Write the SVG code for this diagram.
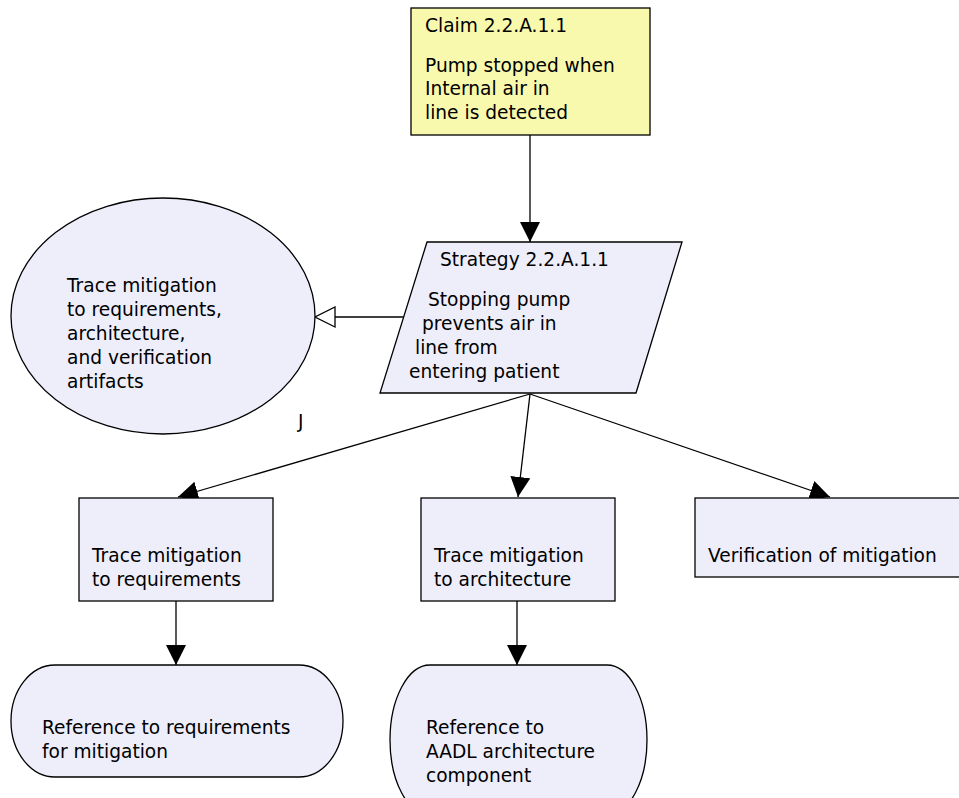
<svg xmlns="http://www.w3.org/2000/svg" width="959" height="798" viewBox="0 0 959 798">
  <style>
    .shape { fill: #eeeefb; stroke: #000; stroke-width: 1.3; }
    .claim { fill: #f9f9ae; stroke: #000; stroke-width: 1.3; }
    text { font-family: "DejaVu Sans", "Liberation Sans", sans-serif; font-size: 18.6px; fill: #000; }
    .edge { stroke: #000; stroke-width: 1.3; fill: none; }
  </style>
  <defs>
    <marker id="solid" viewBox="0 0 20 20" refX="20" refY="10" markerWidth="20" markerHeight="20" markerUnits="userSpaceOnUse" orient="auto">
      <path d="M0,0 L20,10 L0,20 Z" fill="#000"/>
    </marker>
    <marker id="hollow" viewBox="0 0 22 22" refX="21" refY="11" markerWidth="22" markerHeight="22" markerUnits="userSpaceOnUse" orient="auto">
      <path d="M1,1 L21,11 L1,21 Z" fill="#fff" stroke="#000" stroke-width="1.3"/>
    </marker>
  </defs>

  <g id="connectors">
    <line class="edge" x1="530" y1="135" x2="530" y2="242" marker-end="url(#solid)"/>
    <line class="edge" x1="404" y1="317" x2="315" y2="317" marker-end="url(#hollow)"/>
    <line class="edge" x1="530" y1="394" x2="178" y2="497" marker-end="url(#solid)"/>
    <line class="edge" x1="530" y1="394" x2="518" y2="497" marker-end="url(#solid)"/>
    <line class="edge" x1="530" y1="394" x2="830" y2="497" marker-end="url(#solid)"/>
    <line class="edge" x1="176" y1="601" x2="176" y2="665" marker-end="url(#solid)"/>
    <line class="edge" x1="517" y1="601" x2="517" y2="665" marker-end="url(#solid)"/>
  </g>

  <g id="claim">
    <rect class="claim" x="411" y="8" width="239" height="127"/>
    <text x="425" y="32">Claim 2.2.A.1.1</text>
    <text x="425" y="72">Pump stopped when</text>
    <text x="425" y="95">Internal air in</text>
    <text x="425" y="119">line is detected</text>
  </g>

  <g id="strategy">
    <path class="shape" d="M427,242 L682,242 L636,393 L380,393 Z"/>
    <text x="440" y="266">Strategy 2.2.A.1.1</text>
    <text x="428" y="306">Stopping pump</text>
    <text x="422" y="330">prevents air in</text>
    <text x="415" y="354">line from</text>
    <text x="409" y="378">entering patient</text>
  </g>

  <g id="justification">
    <ellipse class="shape" cx="163" cy="316" rx="152" ry="118"/>
    <text x="67" y="292">Trace mitigation</text>
    <text x="67" y="316">to requirements,</text>
    <text x="67" y="340">architecture,</text>
    <text x="67" y="364">and verification</text>
    <text x="67" y="388">artifacts</text>
    <text x="298" y="428">J</text>
  </g>

  <g id="goal-requirements">
    <rect class="shape" x="79" y="498" width="194" height="103"/>
    <text x="92" y="562">Trace mitigation</text>
    <text x="92" y="586">to requirements</text>
  </g>

  <g id="goal-architecture">
    <rect class="shape" x="421" y="498" width="194" height="103"/>
    <text x="434" y="562">Trace mitigation</text>
    <text x="434" y="586">to architecture</text>
  </g>

  <g id="goal-verification">
    <rect class="shape" x="695" y="498" width="270" height="79"/>
    <text x="708" y="562">Verification of mitigation</text>
  </g>

  <g id="solution-requirements">
    <rect class="shape" x="11" y="665" width="332" height="112" rx="44" ry="56"/>
    <text x="42" y="734">Reference to requirements</text>
    <text x="42" y="758">for mitigation</text>
  </g>

  <g id="solution-architecture">
    <rect class="shape" x="390" y="665" width="257" height="150" rx="40" ry="75"/>
    <text x="426" y="734">Reference to</text>
    <text x="426" y="758">AADL architecture</text>
    <text x="426" y="782">component</text>
  </g>
</svg>
